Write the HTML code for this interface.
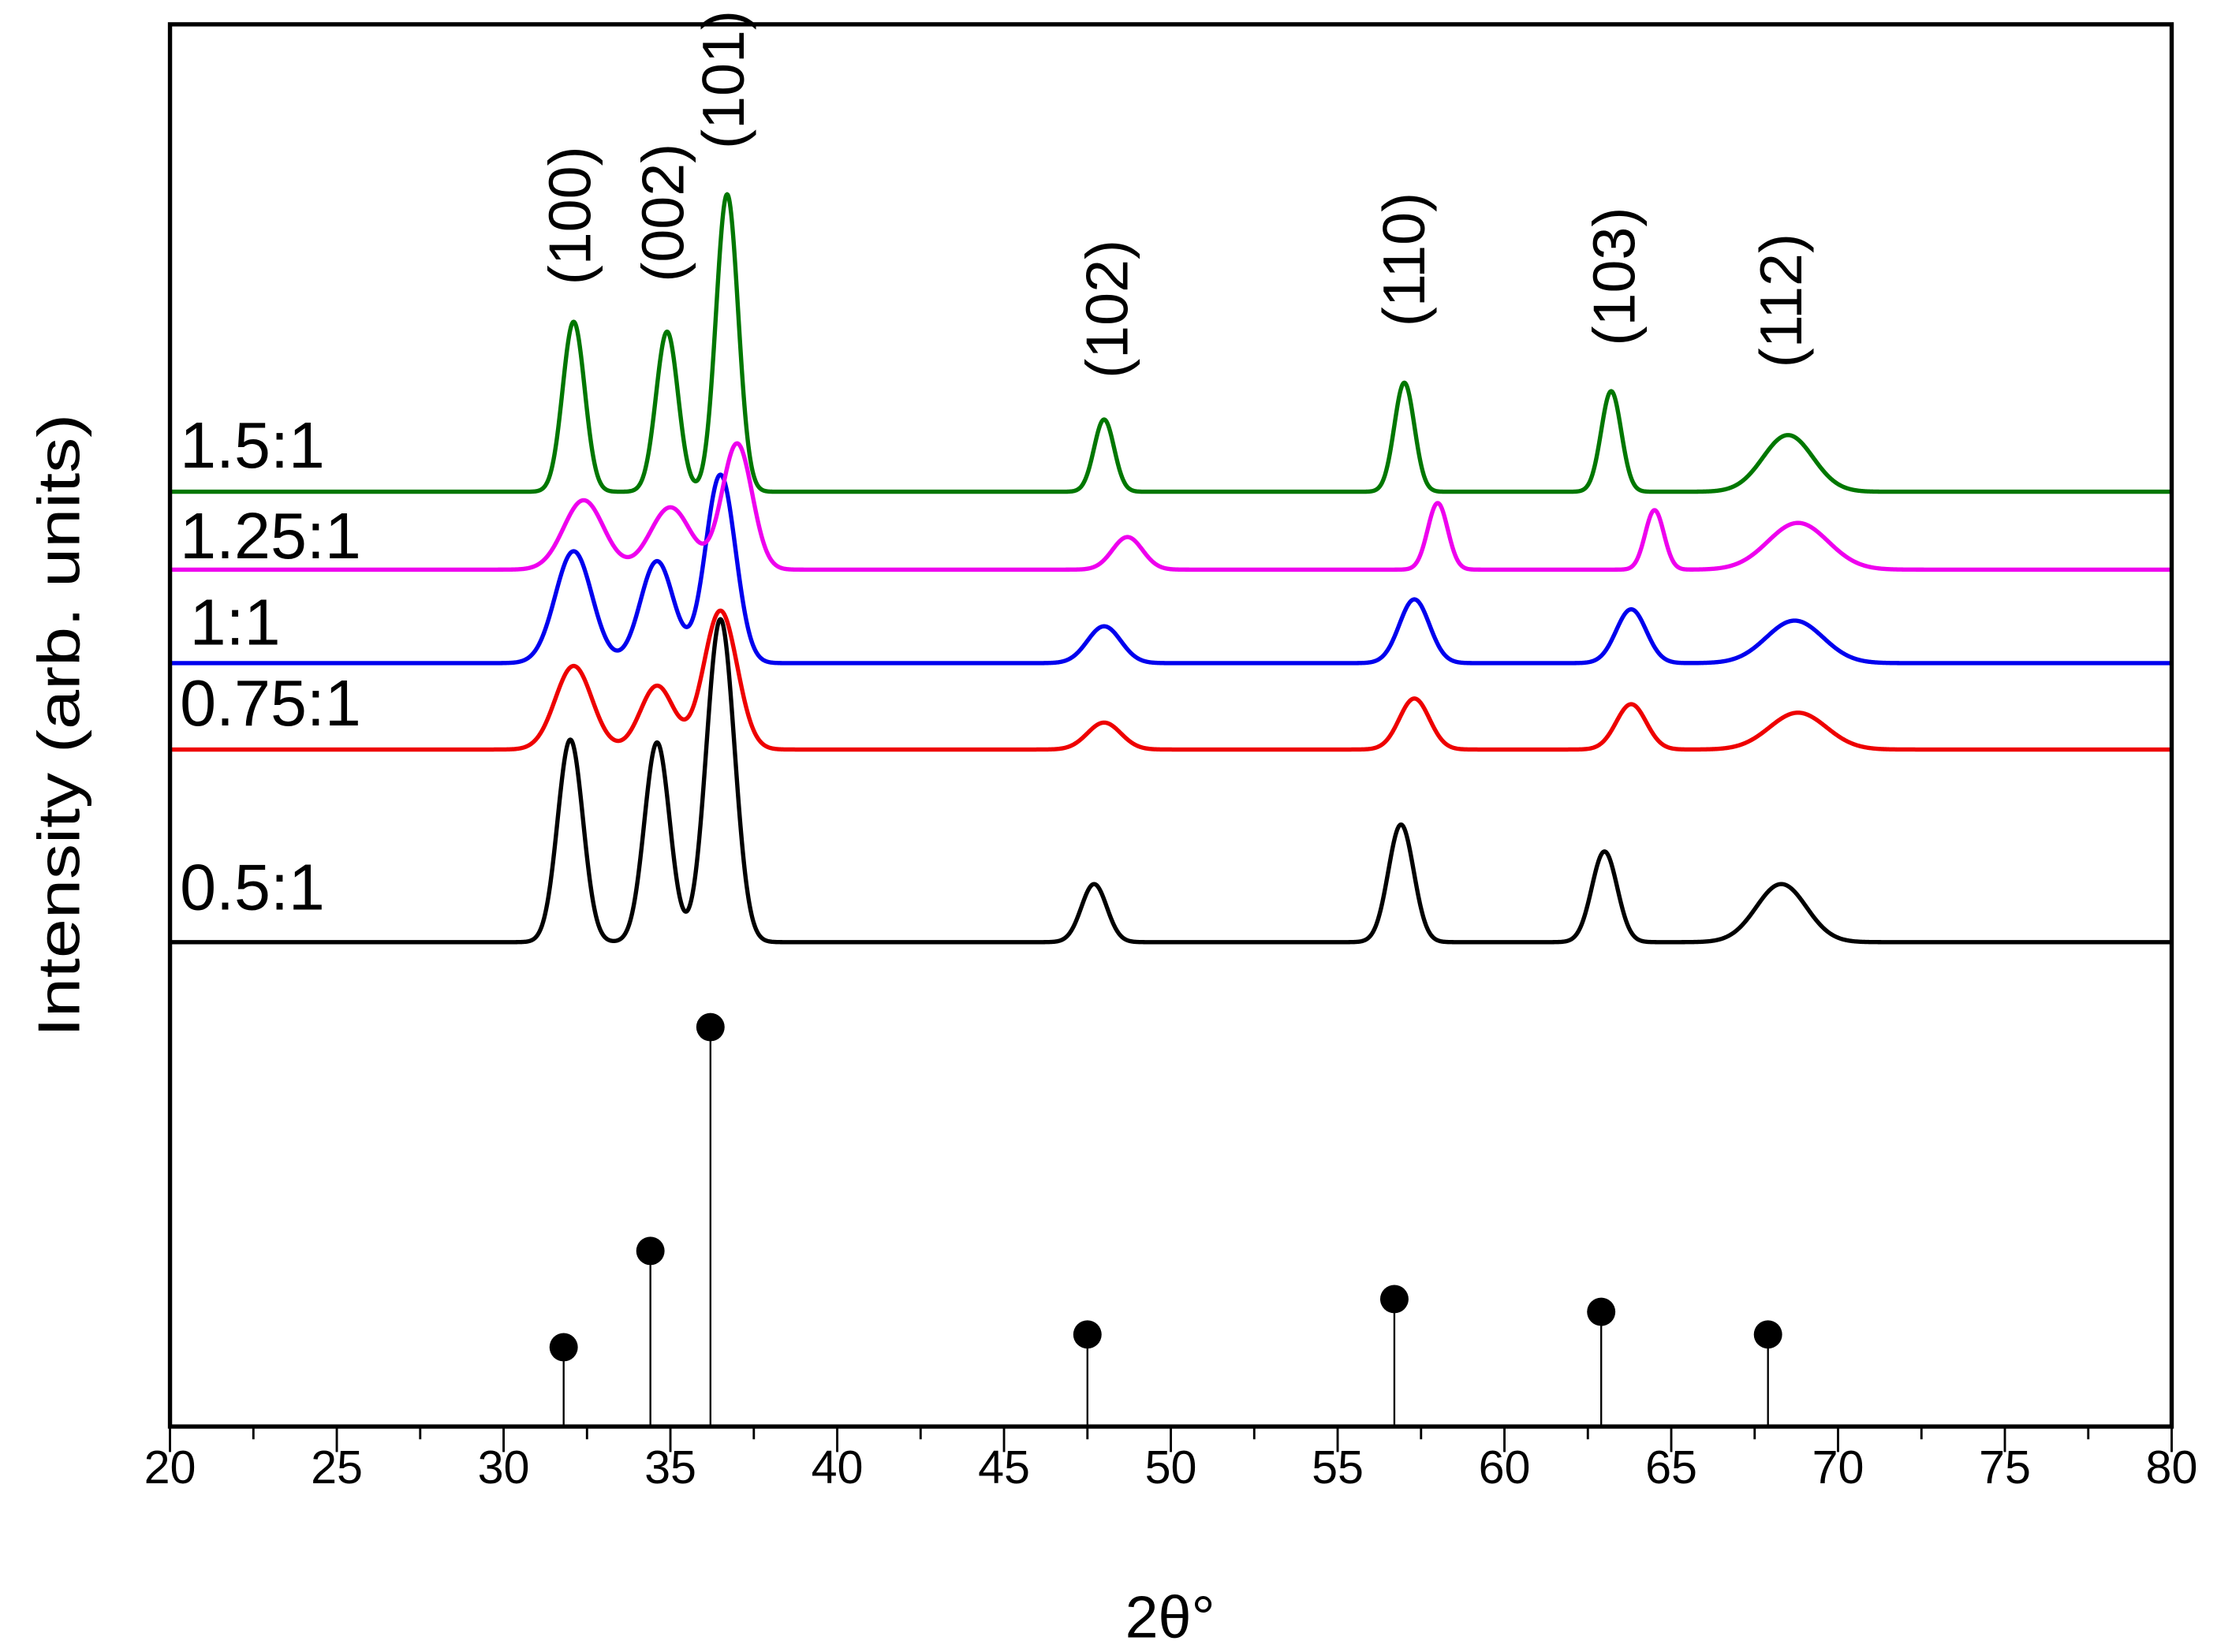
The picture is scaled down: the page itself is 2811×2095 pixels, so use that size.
<!DOCTYPE html>
<html><head><meta charset="utf-8"><style>html,body{margin:0;padding:0;background:#fff}svg{display:block}</style></head>
<body>
<svg id="chart" width="2811" height="2095" viewBox="0 0 1565 1166" xmlns="http://www.w3.org/2000/svg" font-family="'Liberation Sans', Arial, sans-serif">
<rect width="1565" height="1166" fill="#fff"/>
<g id="series"></g>
<g id="sticks"></g>
<rect x="120" y="17" width="1413" height="990" fill="none" stroke="#000" stroke-width="3"/>
<g id="xticks"></g>
<text x="826" y="1156" font-size="42" text-anchor="middle">2θ°</text>
<text transform="translate(56,512) rotate(-90)" font-size="42" text-anchor="middle" textLength="440" lengthAdjust="spacingAndGlyphs">Intensity (arb. units)</text>
<g id="labels"></g>
</svg>
<script>
const seriesNames = ["0.5:1","0.75:1","1:1","1.25:1","1.5:1"];
const seriesColors = ["#000000","#ee0000","#0000ee","#ee00ee","#007700"];
const seriesOffsets = [342, 478, 539, 605, 660];
const peakPos05 = [32.0, 34.6, 36.5, 47.7, 56.9, 63.0, 68.3];
const peakH05 = [143, 141, 228, 41, 83, 64, 41];
const peakW05 = [0.38, 0.38, 0.42, 0.38, 0.38, 0.38, 0.75];
const peakPos075 = [32.1, 34.6, 36.5, 48.0, 57.3, 63.8, 68.8];
const peakH075 = [59, 45, 98, 19, 36, 32, 26];
const peakW075 = [0.55, 0.5, 0.5, 0.5, 0.45, 0.45, 0.85];
const peakPos1 = [32.1, 34.6, 36.5, 48.0, 57.3, 63.8, 68.7];
const peakH1 = [79, 72, 133, 26, 45, 38, 30];
const peakW1 = [0.55, 0.5, 0.45, 0.5, 0.45, 0.45, 0.85];
const peakPos125 = [32.4, 35.0, 37.0, 48.7, 58.0, 64.5, 68.8];
const peakH125 = [49, 44, 89, 23, 47, 42, 33];
const peakW125 = [0.6, 0.6, 0.45, 0.45, 0.3, 0.28, 0.9];
const peakPos15 = [32.1, 34.9, 36.7, 48.0, 57.0, 63.2, 68.5];
const peakH15 = [120, 113, 210, 51, 77, 71, 40];
const peakW15 = [0.33, 0.33, 0.33, 0.3, 0.3, 0.3, 0.75];
const stickPos = [31.8, 34.4, 36.2, 47.5, 56.7, 62.9, 67.9];
const stickH = [56, 124, 282, 65, 90, 81, 65];
const xTicks = [20,25,30,35,40,45,50,55,60,65,70,75,80];
const hklLabels = ["(100)","(002)","(101)","(102)","(110)","(103)","(112)"];
const hklPos = [32.0, 34.8, 36.6, 48.1, 57.0, 63.3, 68.3];
const hklY = [152, 150, 56, 218, 183, 195, 212];

const NS = "http://www.w3.org/2000/svg";
const xS = v => 120 + (v - 20) / 60 * 1413;
const yS = v => 1007 - v;
function mk(tag, attrs, parent){const e=document.createElementNS(NS,tag);for(const k in attrs)e.setAttribute(k,attrs[k]);parent.appendChild(e);return e;}

const allPos=[peakPos05,peakPos075,peakPos1,peakPos125,peakPos15];
const allH=[peakH05,peakH075,peakH1,peakH125,peakH15];
const allW=[peakW05,peakW075,peakW1,peakW125,peakW15];
const gS=document.getElementById('series');
for(let s=0;s<5;s++){
  let d='';
  for(let x=20;x<=80.0001;x+=0.02){
    let v=seriesOffsets[s];
    for(let p=0;p<allPos[s].length;p++){const z=(x-allPos[s][p])/allW[s][p];v+=allH[s][p]*Math.exp(-0.5*z*z);}
    d+=(d?'L':'M')+xS(x).toFixed(2)+','+yS(v).toFixed(2);
  }
  const path=mk('path',{d:d,fill:'none',stroke:seriesColors[s],'stroke-width':3,'stroke-linejoin':'round'},gS);
  
  
}
const labelY=[642,512,455,394,330];
const gL=document.getElementById('labels');
for(let s=0;s<5;s++){
  const t=mk('text',{x:s===2?134:127,y:labelY[s],'font-size':46},gL);
  t.textContent=seriesNames[s];
  
  
}
for(let i=0;i<hklLabels.length;i++){
  const t=mk('text',{transform:`translate(${xS(hklPos[i])+14},${hklY[i]}) rotate(-90)`,'font-size':42,'text-anchor':'middle'},gL);
  t.textContent=hklLabels[i];
  
  
}
const gK=document.getElementById('sticks');
for(let i=0;i<stickPos.length;i++){
  const l=mk('line',{x1:xS(stickPos[i]),x2:xS(stickPos[i]),y1:1007,y2:yS(stickH[i]),stroke:'#000','stroke-width':1.3},gK);
  
  
  const c=mk('circle',{cx:xS(stickPos[i]),cy:yS(stickH[i]),r:10,fill:'#000'},gK);
  
  
}
const gX=document.getElementById('xticks');
for(let v=20;v<=80;v+=2.5){
  const major=(v%5===0);
  const l=mk('line',{x1:xS(v),x2:xS(v),y1:1007,y2:major?1025:1016,stroke:'#000','stroke-width':1.6},gX);
  
  
}
for(const v of xTicks){
  const t=mk('text',{x:xS(v),y:1047,'font-size':33,'text-anchor':'middle'},gX);
  t.textContent=v;
  
  
}
</script>
</body></html>
